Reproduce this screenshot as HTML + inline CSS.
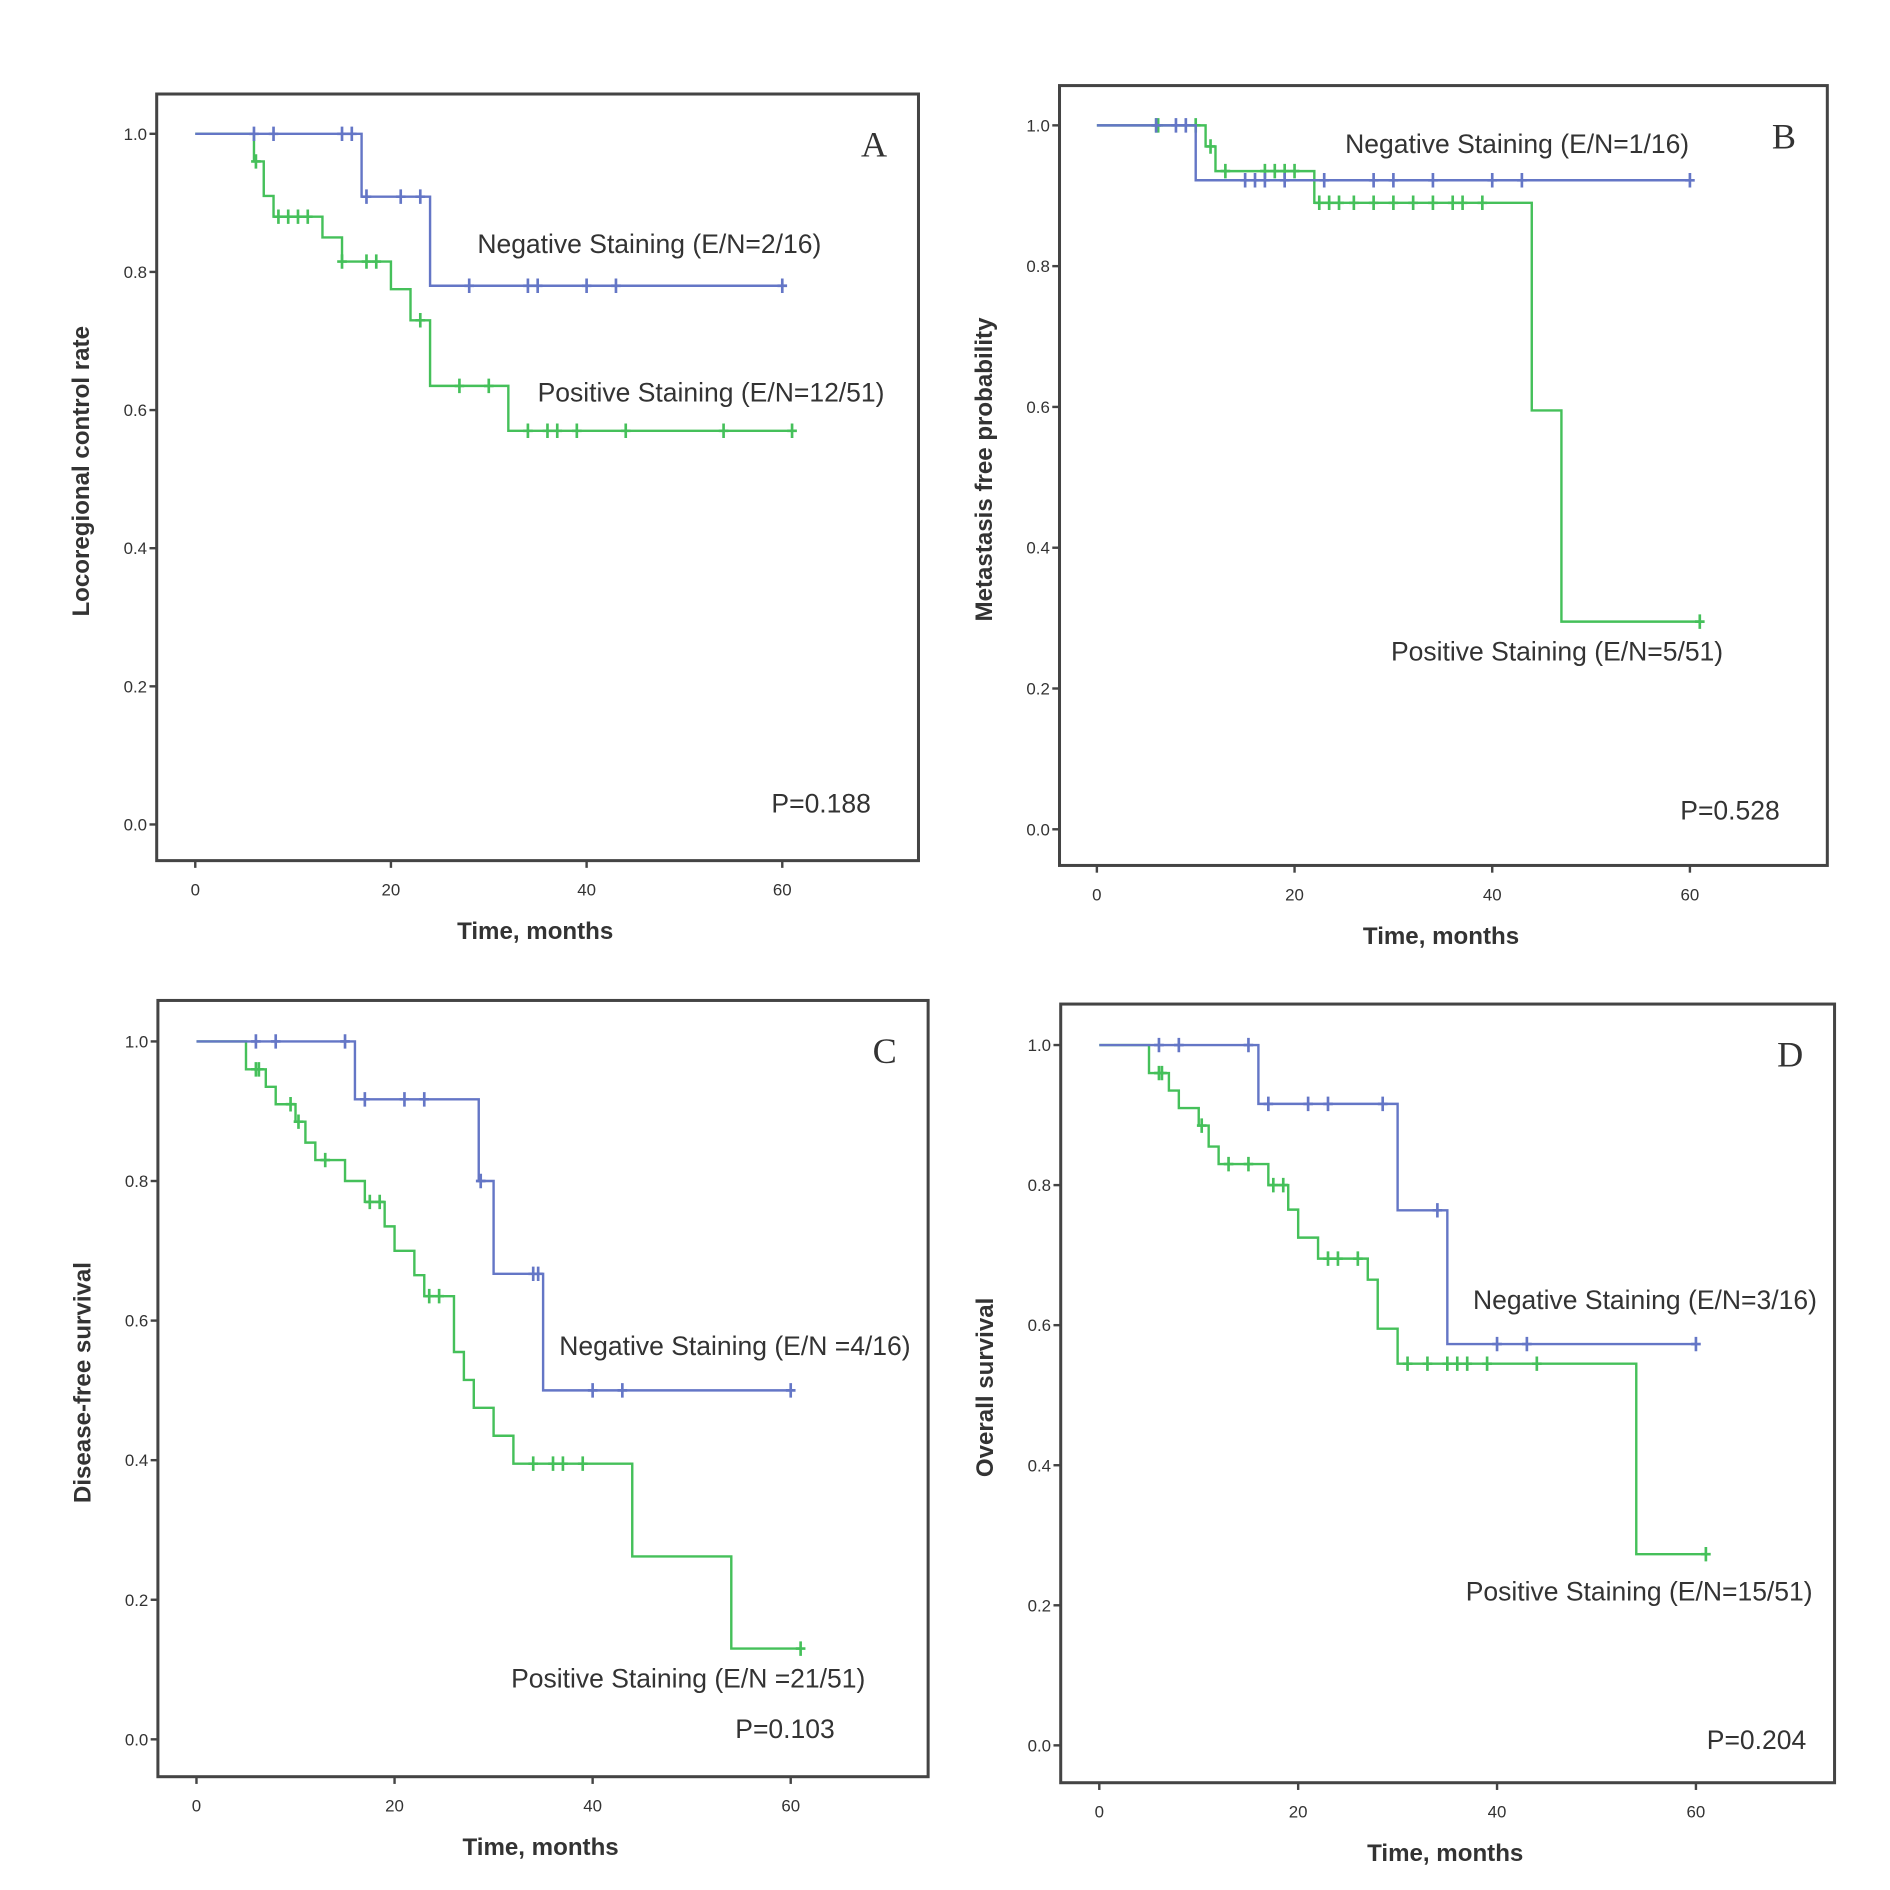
<!DOCTYPE html>
<html><head><meta charset="utf-8"><style>
html,body{margin:0;padding:0;background:#fff;width:1890px;height:1890px;overflow:hidden}
svg{display:block}
text{font-family:"Liberation Sans",sans-serif;fill:#333}
</style></head><body>
<svg id="fig" width="1890" height="1890" viewBox="0 0 1568 1568" xmlns="http://www.w3.org/2000/svg"></svg>
<script>
// ---- Data (time in months, survival probability) ----
const yTicks = [0, 0.2, 0.4, 0.6, 0.8, 1.0];
const xTicks = [0, 20, 40, 60];

const aNegSteps = [[0,1],[17,0.909],[24,0.78],[60,0.78]];
const aNegCens = [[6,1],[8,1],[15,1],[16,1],[17.5,0.909],[21,0.909],[23,0.909],[28,0.78],[34,0.78],[35,0.78],[40,0.78],[43,0.78],[60,0.78]];
const aPosSteps = [[0,1],[6,0.96],[7,0.91],[8,0.88],[13,0.85],[15,0.815],[20,0.775],[22,0.73],[24,0.635],[32,0.57],[61,0.57]];
const aPosCens = [[6.2,0.96],[8.5,0.88],[9.5,0.88],[10.5,0.88],[11.5,0.88],[15,0.815],[17.5,0.815],[18.5,0.815],[23,0.73],[27,0.635],[30,0.635],[34,0.57],[36,0.57],[37,0.57],[39,0.57],[44,0.57],[54,0.57],[61,0.57]];

const bNegSteps = [[0,1],[10,0.922],[60,0.922]];
const bNegCens = [[6,1],[8,1],[9,1],[15,0.922],[16,0.922],[17,0.922],[19,0.922],[23,0.922],[28,0.922],[30,0.922],[34,0.922],[40,0.922],[43,0.922],[60,0.922]];
const bPosSteps = [[0,1],[11,0.97],[12,0.935],[22,0.89],[44,0.595],[47,0.295],[61,0.295]];
const bPosCens = [[6,1],[6.2,1],[10,1],[11.5,0.97],[13,0.935],[17,0.935],[18,0.935],[19,0.935],[20,0.935],[22.5,0.89],[23.5,0.89],[24.5,0.89],[26,0.89],[28,0.89],[30,0.89],[32,0.89],[34,0.89],[36,0.89],[37,0.89],[39,0.89],[61,0.295]];

const cNegSteps = [[0,1],[16,0.917],[28.5,0.80],[30,0.667],[35,0.50],[60,0.50]];
const cNegCens = [[6,1],[8,1],[15,1],[17,0.917],[21,0.917],[23,0.917],[28.7,0.80],[34,0.667],[34.5,0.667],[40,0.50],[43,0.50],[60,0.50]];
const cPosSteps = [[0,1],[5,0.96],[7,0.935],[8,0.91],[10,0.885],[11,0.855],[12,0.83],[15,0.80],[17,0.77],[19,0.735],[20,0.70],[22,0.665],[23,0.635],[26,0.555],[27,0.515],[28,0.475],[30,0.435],[32,0.395],[44,0.262],[54,0.13],[61,0.13]];
const cPosCens = [[6,0.96],[6.3,0.96],[9.5,0.91],[10.3,0.885],[13,0.83],[17.5,0.77],[18.5,0.77],[23.5,0.635],[24.5,0.635],[34,0.395],[36,0.395],[37,0.395],[39,0.395],[61,0.13]];

const dNegSteps = [[0,1],[16,0.916],[30,0.764],[35,0.573],[60,0.573]];
const dNegCens = [[6,1],[8,1],[15,1],[17,0.916],[21,0.916],[23,0.916],[28.5,0.916],[34,0.764],[40,0.573],[43,0.573],[60,0.573]];
const dPosSteps = [[0,1],[5,0.96],[7,0.935],[8,0.91],[10,0.885],[11,0.855],[12,0.83],[17,0.80],[19,0.765],[20,0.725],[22,0.695],[27,0.665],[28,0.595],[30,0.545],[54,0.273],[61,0.273]];
const dPosCens = [[6,0.96],[6.3,0.96],[10.3,0.885],[13,0.83],[15,0.83],[17.5,0.80],[18.5,0.80],[23,0.695],[24,0.695],[26,0.695],[31,0.545],[33,0.545],[35,0.545],[36,0.545],[37,0.545],[39,0.545],[44,0.545],[61,0.273]];

const BLUE = "#6476c6", GREEN = "#45c05a";
const NS = "http://www.w3.org/2000/svg";
const svg = document.getElementById('fig');
function el(tag, attrs, parent){const e=document.createElementNS(NS,tag);for(const k in attrs)e.setAttribute(k,attrs[k]);(parent||svg).appendChild(e);return e;}

const panels = [
 {id:'a',letter:'A',fx:130,fy:78,fw:632,fh:636,x0:162,x60:649,y1:111,y0:684,ylab:'Locoregional control rate',
  neg:aNegSteps,negC:aNegCens,pos:aPosSteps,posC:aPosCens,
  negT:['Negative Staining (E/N=2/16)',396,210],posT:['Positive Staining (E/N=12/51)',446,333],p:['P=0.188',640,674]},
 {id:'b',letter:'B',fx:879,fy:71,fw:637,fh:647,x0:910,x60:1402,y1:104,y0:688,ylab:'Metastasis free probability',
  neg:bNegSteps,negC:bNegCens,pos:bPosSteps,posC:bPosCens,
  negT:['Negative Staining (E/N=1/16)',1116,127],posT:['Positive Staining (E/N=5/51)',1154,548],p:['P=0.528',1394,680]},
 {id:'c',letter:'C',fx:131,fy:830,fw:639,fh:644,x0:163,x60:656,y1:864,y0:1443,ylab:'Disease-free survival',
  neg:cNegSteps,negC:cNegCens,pos:cPosSteps,posC:cPosCens,
  negT:['Negative Staining (E/N =4/16)',464,1124],posT:['Positive Staining (E/N =21/51)',424,1400],p:['P=0.103',610,1442]},
 {id:'d',letter:'D',fx:880,fy:833,fw:642,fh:646,x0:912,x60:1407,y1:867,y0:1448,ylab:'Overall survival',
  neg:dNegSteps,negC:dNegCens,pos:dPosSteps,posC:dPosCens,
  negT:['Negative Staining (E/N=3/16)',1222,1086],posT:['Positive Staining (E/N=15/51)',1216,1328],p:['P=0.204',1416,1451]}
];

panels.forEach(P=>{
  const g = el('g',{});
  
  
  const X = t => P.x0 + t*(P.x60-P.x0)/60;
  const Y = s => P.y0 - s*(P.y0-P.y1);
  const frame = el('rect',{x:P.fx,y:P.fy,width:P.fw,height:P.fh,fill:'none',stroke:'#444','stroke-width':2.5},g);
  
  
  yTicks.forEach(v=>{
    el('line',{x1:P.fx-6,x2:P.fx,y1:Y(v),y2:Y(v),stroke:'#444','stroke-width':2},g);
    const t=el('text',{x:P.fx-8,y:Y(v)+5,'text-anchor':'end','font-size':14},g);
    t.textContent=v.toFixed(1);
    
    
  });
  xTicks.forEach(v=>{
    el('line',{x1:X(v),x2:X(v),y1:P.fy+P.fh,y2:P.fy+P.fh+6,stroke:'#444','stroke-width':2},g);
    const t=el('text',{x:X(v),y:P.fy+P.fh+29,'text-anchor':'middle','font-size':14},g);
    t.textContent=v;
    
    
  });
  const xt=el('text',{x:P.fx+P.fw/2-2,y:P.fy+P.fh+65,'text-anchor':'middle','font-size':20,'font-weight':'bold'},g);
  xt.textContent='Time, months';
  
  
  const cy=(P.fy+P.fh/2)-5, cx=P.fx-56;
  const yt=el('text',{x:cx,y:cy,'text-anchor':'middle','font-size':20,'font-weight':'bold',transform:`rotate(-90 ${cx} ${cy})`},g);
  yt.textContent=P.ylab;
  
  

  function series(steps,cens,color,name){
    let d='M'+X(steps[0][0])+' '+Y(steps[0][1]);
    for(let i=1;i<steps.length;i++){d+=' H'+X(steps[i][0])+' V'+Y(steps[i][1]);}
    const p=el('path',{d:d,fill:'none',stroke:color,'stroke-width':2},g);
    
    
    cens.forEach(c=>{
      const m=el('path',{d:`M${X(c[0])} ${Y(c[1])-6} V${Y(c[1])+6} M${X(c[0])-4} ${Y(c[1])} H${X(c[0])+4}`,stroke:color,'stroke-width':2.2},g);
      
      
    });
  }
  series(P.pos,P.posC,GREEN,'positive-staining');
  series(P.neg,P.negC,BLUE,'negative-staining');

  [[P.negT,'negative-label'],[P.posT,'positive-label'],[P.p,'p-value']].forEach(([a,n])=>{
    const t=el('text',{x:a[1],y:a[2],'font-size':22},g);
    t.textContent=a[0];
    
    
  });
  const L=el('text',{x:P.fx+P.fw-26,y:P.fy+52,'text-anchor':'end','font-size':30,style:'font-family:"Liberation Serif",serif'},g);
  L.textContent=P.letter;
  
  
});
</script>
</body></html>
